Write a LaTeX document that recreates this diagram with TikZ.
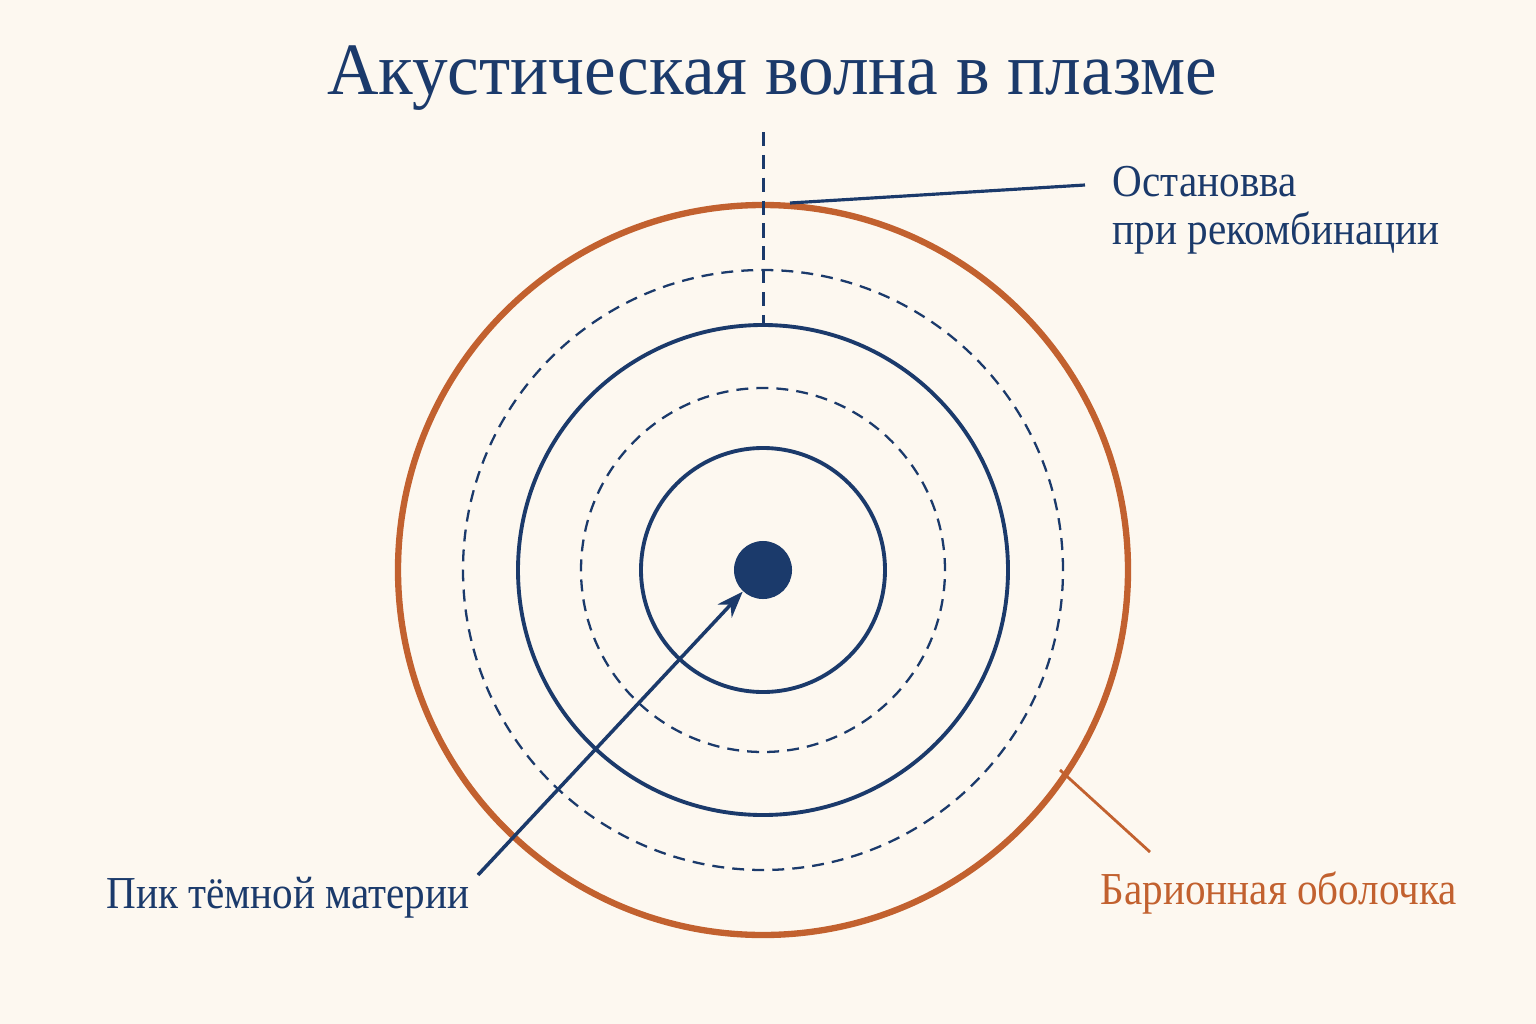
\documentclass[tikz,border=0pt]{standalone}
\usepackage{fontspec}
\setmainfont{Liberation Serif}
\usetikzlibrary{arrows.meta}
\definecolor{navy}{HTML}{1B3A6B}
\definecolor{rust}{HTML}{C2612F}
\definecolor{paper}{HTML}{FDF8F0}
\newcommand{\narrowtext}[2][0.9]{\scalebox{#1}[1]{#2}}

\begin{document}
\begin{tikzpicture}[x=0.01cm, y=0.01cm]
\tikzstyle{every node}+=[inner sep=0pt]
\tikzstyle{wave}=[navy, line width=1.1pt]
\tikzstyle{front}=[navy, line width=0.65pt, dash pattern=on 3.4pt off 2.3pt]
\tikzstyle{label}=[font=\fontsize{13}{13.7}\selectfont]
\fill [paper] (0,0) rectangle (1536,-1024);
\coordinate (c) at (763,-570);
% shells
\draw [rust, line width=1.8pt] (c) circle (365);
\draw [front] (c) circle (300);
\draw [wave] (c) circle (245);
\draw [front] (c) circle (182);
\draw [wave] (c) circle (122);
\node (peak) [circle, fill=navy, minimum size=0.58cm] at (c) {};
% title
\node (title) [navy, font=\fontsize{21}{24}\selectfont] at (772,-78) {\narrowtext[0.965]{Акустическая волна в плазме}};
% sound horizon marker
\coordinate (top) at (763,-132);
\coordinate (ring) at (763,-325);
\draw [navy, line width=0.85pt, dash pattern=on 4pt off 2.5pt] (top) -- (ring);
\node (stop) [label, navy, anchor=west, align=left] at (1112,-210) {\narrowtext{Остановва}\\\narrowtext{при рекомбинации}};
\coordinate (stopend) at (1085,-185);
\coordinate (halt) at (790,-203);
\draw [navy, line width=0.9pt] (stopend) -- (halt);
% dark matter peak
\node (dm) [label, navy] at (288,-898) {\narrowtext{Пик тёмной материи}};
\coordinate (dmend) at (478,-875);
\draw [navy, line width=1pt, -{Stealth[length=7.5pt, width=5.5pt]}] (dmend) -- (peak);
% baryon shell
\node (shell) [label, rust, anchor=west] at (1100,-893) {\narrowtext{Барионная оболочка}};
\coordinate (shellin) at (1060,-770);
\coordinate (shellend) at (1150,-852);
\draw [rust, line width=0.8pt] (shellin) -- (shellend);
\end{tikzpicture}
\end{document}
